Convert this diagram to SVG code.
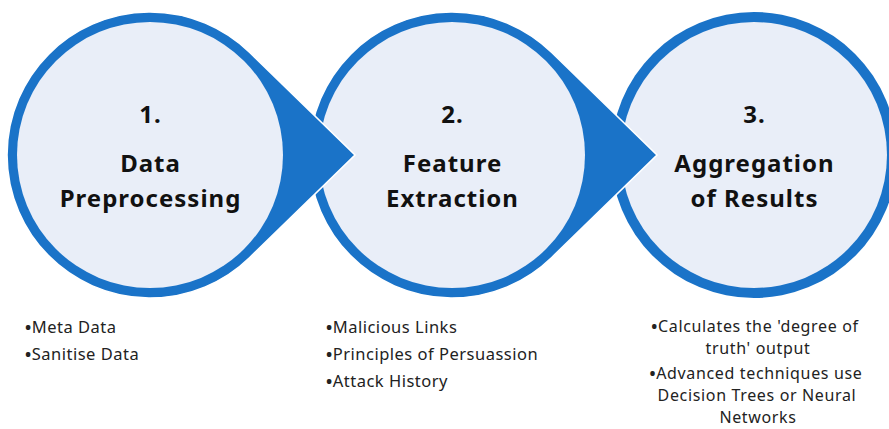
<svg xmlns="http://www.w3.org/2000/svg" width="889" height="429" viewBox="0 0 889 429">
<style>
.shape{fill:#1a73c8;stroke:#ffffff;stroke-width:1.6;stroke-linejoin:miter}
.inner{fill:#e9eef8}
.title{font-family:"Noto Sans","Liberation Sans",sans-serif;font-weight:bold;font-size:24px;letter-spacing:1px;fill:#111;text-anchor:middle}
.item{font-family:"Noto Sans","Liberation Sans",sans-serif;font-size:16.5px;letter-spacing:0.5px;fill:#222}
.itemc{font-family:"Noto Sans","Liberation Sans",sans-serif;font-size:16px;letter-spacing:0.65px;fill:#222;text-anchor:middle}
.b{font-weight:bold}
</style>
<rect width="889" height="429" fill="#ffffff"/>
<g id="connectors"/>
<g id="node3">
<circle cx="754" cy="155" r="143" fill="#1a73c8"/>
<circle class="inner" cx="754" cy="155" r="133"/>
<text class="title" x="754.5" y="123">3.</text>
<text class="title" x="754.5" y="172">Aggregation</text>
<text class="title" x="754.5" y="207">of Results</text>
</g>
<g id="node2">
<path class="shape" d="M657 155 L551.76 52.54 A143 143 0 1 0 551.76 257.46 Z"/>
<circle class="inner" cx="452" cy="155" r="133"/>
<text class="title" x="452.5" y="123">2.</text>
<text class="title" x="452.5" y="172">Feature</text>
<text class="title" x="452.5" y="207">Extraction</text>
</g>
<g id="node1">
<path class="shape" d="M355 155 L249.76 52.54 A143 143 0 1 0 249.76 257.46 Z"/>
<circle class="inner" cx="150" cy="155" r="133"/>
<text class="title" x="150.5" y="123">1.</text>
<text class="title" x="150.5" y="172">Data</text>
<text class="title" x="150.5" y="207">Preprocessing</text>
</g>
<g id="list1">
<text class="item" x="25" y="333"><tspan class="b">•</tspan>Meta Data</text>
<text class="item" x="25" y="360"><tspan class="b">•</tspan>Sanitise Data</text>
</g>
<g id="list2">
<text class="item" x="326" y="333"><tspan class="b">•</tspan>Malicious Links</text>
<text class="item" x="326" y="360"><tspan class="b">•</tspan>Principles of Persuassion</text>
<text class="item" x="326" y="387"><tspan class="b">•</tspan>Attack History</text>
</g>
<g id="list3">
<text class="itemc" x="755" y="332"><tspan class="b">•</tspan>Calculates the 'degree of</text>
<text class="itemc" x="758" y="354">truth' output</text>
<text class="itemc" x="756" y="379"><tspan class="b">•</tspan>Advanced techniques use</text>
<text class="itemc" x="757" y="401">Decision Trees or Neural</text>
<text class="itemc" x="758" y="423">Networks</text>
</g>
</svg>
